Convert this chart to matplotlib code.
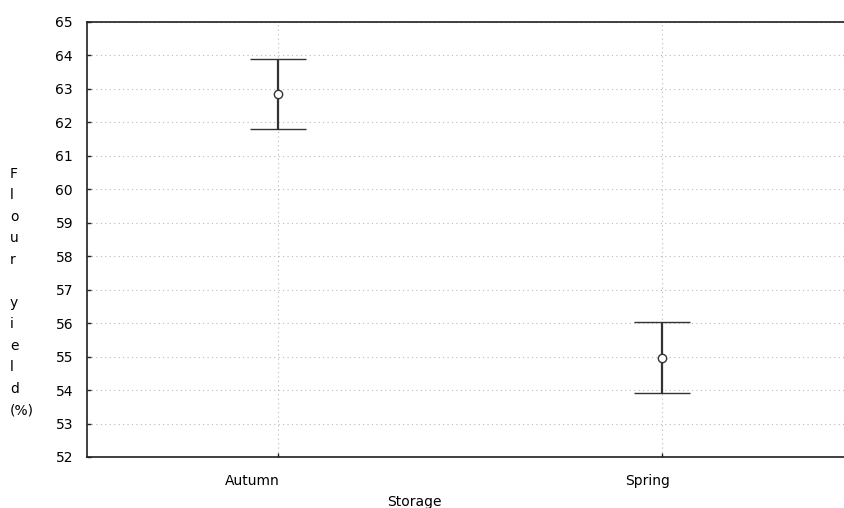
import numpy as np
import matplotlib
matplotlib.use("Agg")
import matplotlib.pyplot as plt
import matplotlib.transforms as mtransforms

# data
storage = ["Autumn", "Spring"]
mean_yield = np.array([62.85, 54.97])
upper = np.array([63.88, 56.02])
lower = np.array([61.80, 53.92])

W, H = 844, 508
fig = plt.figure(figsize=(W / 100, H / 100), dpi=100)
plt.rcParams['font.family'] = ['DejaVu Sans']

# axes runs off the right side of the image, like the original
left, right, top, bottom = 87, 850, 22, 457
ax = fig.add_axes([left / W, 1 - bottom / H, (right - left) / W, (bottom - top) / H])

x = np.arange(len(storage))
yerr = np.vstack([mean_yield - lower, upper - mean_yield])
ax.errorbar(x, mean_yield, yerr=yerr, fmt='o', color='#333333', ecolor='#333333',
            elinewidth=1.6, capsize=20, capthick=1.6, markersize=6,
            markerfacecolor='white', markeredgecolor='#333333', markeredgewidth=1.0, zorder=3)

ax.set_ylim(52, 65)
ax.set_yticks(np.arange(52, 66, 1))
ax.set_xlim(-0.497, 1.490)
ax.set_xticks(x)
ax.set_xticklabels(storage)

ax.grid(True, color='#b8b8b8', linestyle=(0, (1, 3)), linewidth=0.8)
ax.set_axisbelow(True)
for s in ax.spines.values():
    s.set_color('#202020')
    s.set_linewidth(1.2)

ax.tick_params(axis='both', direction='in', length=3, width=1, colors='#202020',
               labelsize=10, labelcolor='black')
ax.tick_params(axis='y', pad=10)
ax.tick_params(axis='x', pad=12)

# tick labels in the original sit a bit left of their ticks
for lab, dx in zip(ax.get_xticklabels(), [-26, -14]):
    lab.set_transform(lab.get_transform() + mtransforms.ScaledTranslation(dx / 100, 0, fig.dpi_scale_trans))

ax.set_xlabel("Storage", fontsize=10)
ax.xaxis.set_label_coords((414 - left) / (right - left), -0.088)

fig.text(10 / W, 1 - 292 / H, "F\nl\no\nu\nr\n\ny\ni\ne\nl\nd\n(%)",
         ha='left', va='center', multialignment='left', fontsize=10, linespacing=1.68)

fig.savefig("out.png", dpi=100)
